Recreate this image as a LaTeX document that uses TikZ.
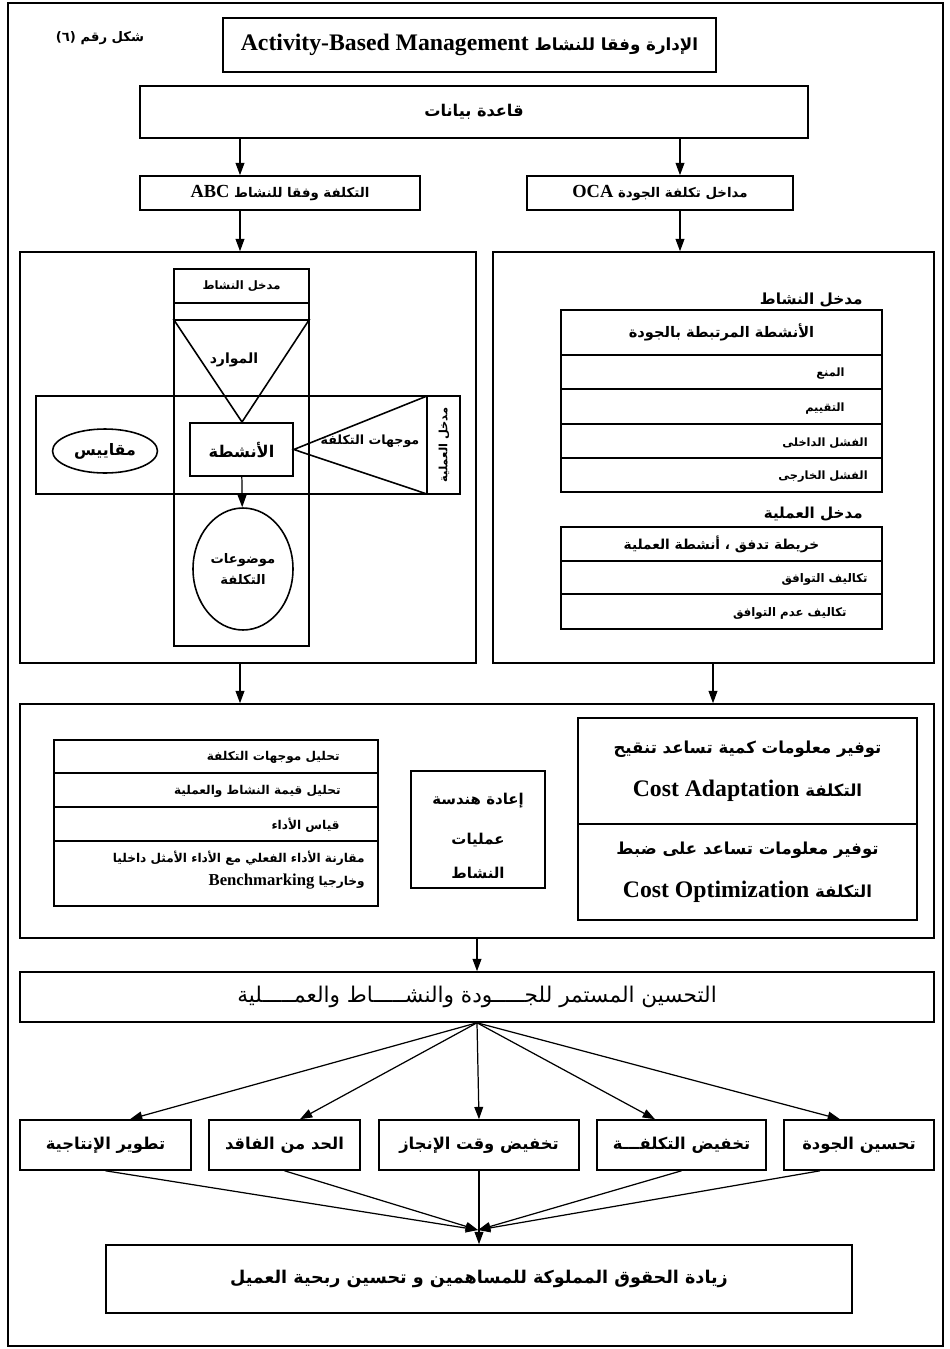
\documentclass[tikz,border=0pt]{standalone}
\usepackage{fontspec}
\setmainfont{Liberation Serif}
\newfontfamily\arabicfont[Script=Arabic]{DejaVu Sans}
\TeXXeTstate=1
\usetikzlibrary{arrows.meta,shapes.geometric}
\newcommand\ar[1]{{\arabicfont\beginR #1\endR}}
\newcommand\lat[2]{\beginL{\rmfamily\fontsize{#1}{#1}\selectfont #2}\endL}

\begin{document}
\begin{tikzpicture}[x=0.02cm,y=-0.02cm,
    box/.style 2 args={draw,line width=.9pt,inner sep=0pt,minimum width=#1cm,minimum height=#2cm},
    txt/.style={inner sep=0pt,font=\fontsize{#1pt}{#1pt}\selectfont\bfseries},
    plaintxt/.style={inner sep=0pt,font=\fontsize{#1pt}{#1pt}\selectfont},
    arr/.style={line width=.7pt,-{Triangle[length=7pt,width=5pt]}}]
  \useasboundingbox (0,0) rectangle (950,1349);
  \draw[line width=1pt] (8,3) rectangle (943,1346);

  % heading
  \node[txt=7.5] (fignum) at (100,38) {\ar{شكل رقم (٦)}};
  \node[box={9.86}{1.08},txt=9.5] (title) at (469.5,45) {\ar{الإدارة وفقا للنشاط \lat{13.5pt}{Activity-Based Management}}};
  \node[box={13.36}{1.04},txt=9.2] (db) at (474,112) {\ar{قاعدة بيانات}};
  \node[box={5.6}{0.68},txt=7.6] (abc) at (280,193) {\ar{التكلفة وفقا للنشاط \lat{10.5pt}{ABC}}};
  \node[box={5.32}{0.68},txt=7.6] (oca) at (660,193) {\ar{مداخل تكلفة الجودة \lat{10.5pt}{OCA}}};
  \coordinate (lx) at (240,0);
  \coordinate (rx) at (680,0);
  \coordinate (mx) at (713,0);
  \draw[arr] (db.south -| lx) -- (abc.north -| lx);
  \draw[arr] (db.south -| rx) -- (oca.north -| rx);

  % the two panels
  \node[box={9.12}{8.22}] (abcbox) at (248,457.5) {};
  \node[box={8.82}{8.22}] (ocabox) at (713.5,457.5) {};
  \draw[arr] (abc.south -| lx) -- (abcbox.north -| lx);
  \draw[arr] (oca.south -| rx) -- (ocabox.north -| rx);

  % ABC cross
  \node[box={8.48}{1.96}] (band) at (248,445) {};
  \node[box={2.7}{7.54}] (column) at (241.5,457.5) {};
  \node[box={2.7}{0.68},txt=6.6] (actin) at (241.5,286) {\ar{مدخل النشاط}};
  \coordinate (resL) at (174,320);
  \coordinate (resR) at (309,320);
  \coordinate (resT) at (242,422);
  \draw[line width=.9pt] (resL) -- (resR) -- (resT) -- cycle;
  \node[txt=8] (resources) at (234,360) {\ar{الموارد}};
  \node[box={2.06}{1.06},txt=9.2] (activities) at (241.5,449.5) {\ar{الأنشطة}};
  \coordinate (divT) at (427,396);
  \coordinate (divB) at (427,494);
  \draw[line width=.9pt] (divT) -- (divB);
  \draw[line width=.9pt] (divT) -- (activities.east) -- (divB);
  \node[txt=6.5,rotate=90] (procin) at (444,445) {\ar{مدخل العملية}};
  \node[txt=7.2] (drivers) at (370,441) {\ar{موجهات التكلفة}};
  \node[draw,ellipse,line width=.9pt,minimum width=2cm,minimum height=2.44cm,txt=7.5,align=center] (objects) at (243,569) {\ar{موضوعات}\\[3pt]\ar{التكلفة}};
  \draw[arr] (activities) -- (objects);
  \node[draw,ellipse,line width=.9pt,minimum width=2.1cm,minimum height=0.88cm,txt=9] (measures) at (105,451) {\ar{مقاييس}};

  % OCA tables
  \node[txt=8.7,anchor=east] (actlbl) at (863,300) {\ar{مدخل النشاط}};
  \node[box={6.42}{0.9},txt=8.3] (q0) at (721.5,332.5) {\ar{الأنشطة المرتبطة بالجودة}};
  \node[box={6.42}{0.68}] (q1) at (721.5,372) {};
  \node[box={6.42}{0.7}] (q2) at (721.5,406.5) {};
  \node[box={6.42}{0.68}] (q3) at (721.5,441) {};
  \node[box={6.42}{0.68}] (q4) at (721.5,475) {};
  \node[txt=6.5,anchor=east] (q1t) at (845,374) {\ar{المنع}};
  \node[txt=6.5,anchor=east] (q2t) at (845,409) {\ar{التقييم}};
  \node[txt=6.5,anchor=east] (q3t) at (868,443) {\ar{الفشل الداخلى}};
  \node[txt=6.5,anchor=east] (q4t) at (868,477) {\ar{الفشل الخارجى}};
  \node[txt=8.6,anchor=east] (proclbl) at (863,514) {\ar{مدخل العملية}};
  \node[box={6.42}{0.68},txt=7.8] (p0) at (721.5,544) {\ar{خريطة تدفق ، أنشطة العملية}};
  \node[box={6.42}{0.66}] (p1) at (721.5,577.5) {};
  \node[box={6.42}{0.7}] (p2) at (721.5,611.5) {};
  \node[txt=6.7,anchor=east] (p1t) at (868,579) {\ar{تكاليف التوافق}};
  \node[txt=6.7,anchor=east] (p2t) at (847,613) {\ar{تكاليف عدم التوافق}};

  % analysis section
  \node[box={18.28}{4.68}] (midbox) at (477,821) {};
  \draw[arr] (abcbox.south -| lx) -- (midbox.north -| lx);
  \draw[arr] (ocabox.south -| mx) -- (midbox.north -| mx);
  \node[box={6.48}{0.66}] (a1) at (216,756.5) {};
  \node[box={6.48}{0.68}] (a2) at (216,790) {};
  \node[box={6.48}{0.68}] (a3) at (216,824) {};
  \node[box={6.48}{1.3}] (a4) at (216,873.5) {};
  \node[txt=6.9,anchor=east] (a1t) at (340,757) {\ar{تحليل موجهات التكلفة}};
  \node[txt=6.9,anchor=east] (a2t) at (341,791) {\ar{تحليل قيمة النشاط والعملية}};
  \node[txt=6.9,anchor=east] (a3t) at (340,825) {\ar{قياس الأداء}};
  \node[txt=6.9,anchor=east] (a4t) at (365,858) {\ar{مقارنة الأداء الفعلي مع الأداء الأمثل داخليا}};
  \node[txt=6.9,anchor=east] (a4u) at (365,882) {\ar{وخارجيا \lat{9.5pt}{Benchmarking}}};
  \node[box={2.68}{2.34}] (reeng) at (478,829.5) {};
  \node[txt=8.5,align=center] (reengt) at (478,836) {\ar{إعادة هندسة}\\[13pt]\ar{عمليات}\\[11pt]\ar{النشاط}};
  \node[box={6.78}{2.12},txt=9.4,align=center] (adapt) at (747.5,771) {\ar{توفير معلومات كمية تساعد تنقيح}\\[12pt]\ar{التكلفة \lat{13.5pt}{Cost Adaptation}}};
  \node[box={6.78}{1.92},txt=9.4,align=center] (optim) at (747.5,872) {\ar{توفير معلومات تساعد على ضبط}\\[12pt]\ar{التكلفة \lat{13.5pt}{Cost Optimization}}};

  % improvement
  \node[box={18.28}{1.0},plaintxt=12.3] (ci) at (477,997) {\ar{التحسين المستمر للجـــــودة والنشـــــاط والعمـــــلية}};
  \draw[arr] (midbox.south) -- (ci.north);
  \node[box={3.42}{1.0},txt=9.3] (prod) at (105.5,1145) {\ar{تطوير الإنتاجية}};
  \node[box={3.02}{1.0},txt=9.3] (waste) at (284.5,1145) {\ar{الحد من الفاقد}};
  \node[box={4.0}{1.0},txt=9.3] (time) at (479,1145) {\ar{تخفيض وقت الإنجاز}};
  \node[box={3.38}{1.0},txt=9.3] (cost) at (681.5,1145) {\ar{تخفيض التكلفـــة}};
  \node[box={3.0}{1.0},txt=9.3] (qual) at (859,1145) {\ar{تحسين الجودة}};
  \coordinate (x1) at (130,0);
  \coordinate (x2) at (300,0);
  \coordinate (x4) at (655,0);
  \coordinate (x5) at (840,0);
  \coordinate (y5) at (820,0);
  \draw[arr] (ci.south) -- (prod.north -| x1);
  \draw[arr] (ci.south) -- (waste.north -| x2);
  \draw[arr] (ci.south) -- (time.north);
  \draw[arr] (ci.south) -- (cost.north -| x4);
  \draw[arr] (ci.south) -- (qual.north -| x5);

  % result
  \node[box={14.92}{1.36},txt=10] (goal) at (479,1279) {\ar{زيادة الحقوق المملوكة للمساهمين و تحسين ربحية العميل}};
  \coordinate (meet) at (478,1230);
  \draw[arr] (prod.south) -- (meet);
  \draw[arr] (waste.south) -- (meet);
  \draw[arr] (cost.south) -- (meet);
  \draw[arr] (qual.south -| y5) -- (meet);
  \draw[arr] (time.south) -- (goal.north);
\end{tikzpicture}
\end{document}
